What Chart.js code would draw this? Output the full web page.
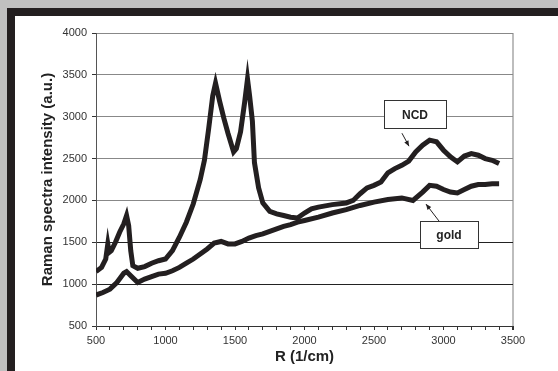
<!DOCTYPE html>
<html>
<head>
<meta charset="utf-8">
<script src="https://cdn.jsdelivr.net/npm/chart.js@4.4.1/dist/chart.umd.min.js"></script>
<style>
  html, body { margin: 0; padding: 0; }
  body { width: 558px; height: 371px; background: #c0c0c0; position: relative; overflow: hidden; }
  #frame { position: absolute; left: 7px; top: 8px; width: 551px; height: 363px; background: #231f20; }
  #box { position: absolute; left: 15px; top: 16px; width: 543px; height: 355px; background: #fff; }
</style>
</head>
<body>
<div id="frame"></div>
<div id="box"><canvas id="spectra"></canvas></div>
<script>
// Raman shift (1/cm) and intensity (a.u.)
var ncdShift = [500, 540, 570, 585, 595, 610, 640, 670, 700, 720, 735, 750, 765, 800, 850, 900, 950, 1000,
  1050, 1100, 1150, 1200, 1250, 1280, 1310, 1340, 1360, 1390, 1420, 1450, 1490, 1510, 1540, 1570, 1590,
  1605, 1625, 1640, 1670, 1700, 1750, 1800, 1850, 1900, 1950, 2000, 2050, 2100, 2200, 2300, 2350, 2400,
  2450, 2500, 2550, 2600, 2650, 2700, 2750, 2800, 2850, 2900, 2950, 3000, 3050, 3100, 3150, 3200, 3250,
  3300, 3350, 3400];
var ncdIntensity = [1150, 1200, 1300, 1480, 1380, 1400, 1500, 1620, 1720, 1820, 1700, 1400, 1220, 1190, 1210,
  1250, 1280, 1300, 1400, 1560, 1740, 1960, 2250, 2480, 2850, 3250, 3400, 3180, 2980, 2800, 2580, 2620,
  2820, 3180, 3450, 3250, 2950, 2450, 2150, 1970, 1870, 1840, 1820, 1800, 1790, 1850, 1900, 1920, 1950,
  1970, 2000, 2080, 2150, 2180, 2220, 2330, 2380, 2420, 2470, 2580, 2660, 2720, 2700, 2600, 2520, 2460,
  2530, 2560, 2540, 2500, 2480, 2440];

var goldShift = [500, 550, 600, 650, 700, 720, 750, 800, 850, 900, 950, 1000, 1050, 1100, 1150, 1200, 1250,
  1300, 1350, 1400, 1450, 1500, 1550, 1600, 1650, 1700, 1750, 1800, 1850, 1900, 1950, 2000, 2100, 2200,
  2300, 2400, 2500, 2600, 2700, 2780, 2850, 2900, 2950, 3000, 3050, 3100, 3150, 3200, 3250, 3300, 3350, 3400];
var goldIntensity = [870, 900, 940, 1020, 1130, 1150, 1100, 1020, 1060, 1090, 1120, 1130, 1160, 1200, 1250,
  1300, 1360, 1420, 1490, 1510, 1480, 1480, 1510, 1550, 1580, 1600, 1630, 1660, 1690, 1710, 1740, 1760,
  1800, 1850, 1890, 1940, 1980, 2010, 2030, 2000, 2100, 2180, 2170, 2130, 2100, 2090, 2130, 2170, 2190,
  2190, 2200, 2200];

// callout labels: text, box corners and arrow (tail -> head), in data units
var calloutText = ['NCD', 'gold'];
var calloutBox = [[2572, 3197, 3018, 2863], [2831, 1753, 3248, 1431]];
var calloutArrow = [[2701, 2803, 2752, 2648], [2968, 1753, 2874, 1956]];

var ink = '#231f20';
var font = '"Liberation Sans", Arial, sans-serif';

function points(xs, ys) {
  return xs.map(function (x, i) { return { x: x, y: ys[i] }; });
}

var callouts = {
  id: 'callouts',
  afterDatasetsDraw: function (chart) {
    var c = chart.ctx, xs = chart.scales.x, ys = chart.scales.y;
    c.save();
    calloutText.forEach(function (txt, i) {
      var b = calloutBox[i], a = calloutArrow[i];
      var x1 = xs.getPixelForValue(b[0]), y1 = ys.getPixelForValue(b[1]);
      var x2 = xs.getPixelForValue(b[2]), y2 = ys.getPixelForValue(b[3]);
      c.fillStyle = '#fff';
      c.fillRect(x1, y1, x2 - x1, y2 - y1);
      c.strokeStyle = '#333';
      c.lineWidth = 1;
      c.strokeRect(Math.round(x1) + 0.5, Math.round(y1) + 0.5, Math.round(x2 - x1), Math.round(y2 - y1));
      c.fillStyle = '#222';
      c.font = 'bold 12px ' + font;
      c.textAlign = 'center';
      c.textBaseline = 'middle';
      c.fillText(txt, (x1 + x2) / 2, (y1 + y2) / 2 + 1);
      // arrow
      var ax = xs.getPixelForValue(a[0]), ay = ys.getPixelForValue(a[1]);
      var hx = xs.getPixelForValue(a[2]), hy = ys.getPixelForValue(a[3]);
      c.strokeStyle = ink;
      c.beginPath(); c.moveTo(ax, ay); c.lineTo(hx, hy); c.stroke();
      var ang = Math.atan2(hy - ay, hx - ax);
      c.fillStyle = ink;
      c.beginPath();
      c.moveTo(hx, hy);
      c.lineTo(hx - 6 * Math.cos(ang - 0.4), hy - 6 * Math.sin(ang - 0.4));
      c.lineTo(hx - 6 * Math.cos(ang + 0.4), hy - 6 * Math.sin(ang + 0.4));
      c.closePath(); c.fill();
    });
    c.restore();
  }
};

var ctx = document.getElementById('spectra').getContext('2d');
var myChart = new Chart(ctx, {
  type: 'scatter',
  data: {
    datasets: [{
      label: 'NCD',
      data: points(ncdShift, ncdIntensity),
      showLine: true,
      borderColor: ink,
      borderWidth: 5,
      pointRadius: 0,
      tension: 0
    }, {
      label: 'gold',
      data: points(goldShift, goldIntensity),
      showLine: true,
      borderColor: ink,
      borderWidth: 5,
      pointRadius: 0,
      tension: 0
    }]
  },
  plugins: [callouts],
  options: {
    responsive: true,
    maintainAspectRatio: false,
    animation: false,
    layout: { padding: { top: 17, right: 45, left: 0, bottom: 0 } },
    plugins: { legend: { display: false }, tooltip: { enabled: false } },
    scales: {
      x: {
        type: 'linear', min: 500, max: 3500,
        afterFit: function (s) { s.height = 45; },
        border: { color: '#333', width: 1 },
        grid: {
          drawOnChartArea: true,
          color: function (c) { return c.tick && c.tick.value === 3500 ? '#bdbdbd' : 'rgba(0,0,0,0)'; },
          lineWidth: function (c) { return c.tick && c.tick.value === 3500 ? 2 : 1; },
          tickColor: '#333', tickLength: 4
        },
        ticks: {
          stepSize: 100, autoSkip: false, maxRotation: 0, padding: 4,
          color: '#333', font: { family: font, size: 11 },
          callback: function (v) { return v % 500 === 0 ? String(v) : ''; }
        },
        title: { display: true, text: 'R (1/cm)', color: '#222', padding: { top: 0, bottom: 5 },
          font: { family: font, size: 15, weight: 'bold' } }
      },
      y: {
        min: 500, max: 4000,
        afterFit: function (s) { s.width = 81; },
        border: { color: '#555', width: 1 },
        grid: {
          color: function (c) { return c.tick && c.tick.value <= 1500 ? '#222' : '#888'; },
          tickColor: '#333', tickLength: 4
        },
        ticks: { stepSize: 500, padding: 5, color: '#333', font: { family: font, size: 11 },
          callback: function (v) { return String(v); } },
        title: { display: true, text: 'Raman spectra intensity (a.u.)', color: '#222', padding: { top: 24, bottom: 0 },
          font: { family: font, size: 15, weight: 'bold' } }
      }
    }
  }
});
</script>
</body>
</html>
